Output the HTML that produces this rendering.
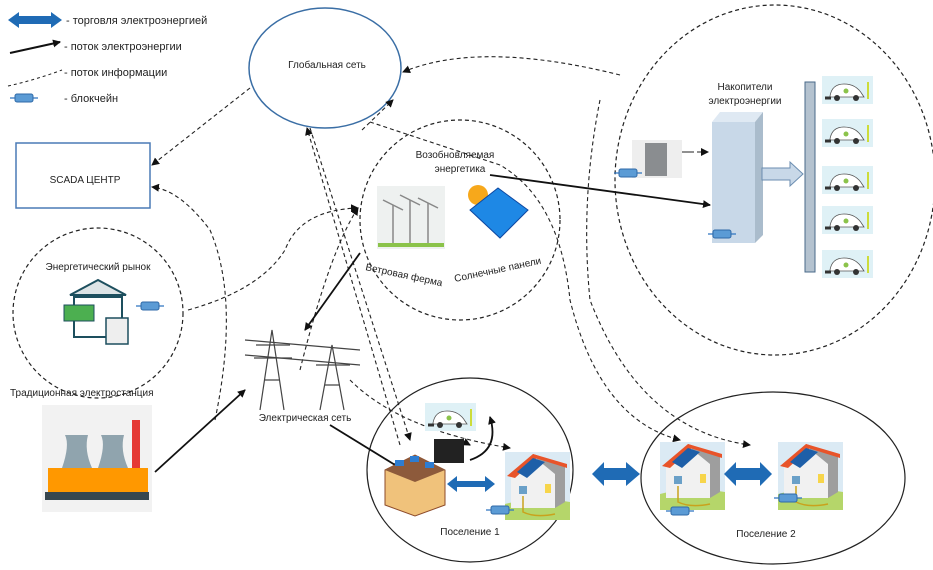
<!DOCTYPE html>
<html><head><meta charset="utf-8"><style>
body{margin:0;background:#fff;}
svg{display:block;font-family:"Liberation Sans","DejaVu Sans",sans-serif;}
</style></head><body>
<svg width="933" height="570" viewBox="0 0 933 570" xmlns="http://www.w3.org/2000/svg">
<defs>
<marker id="a" markerWidth="8" markerHeight="8" refX="7" refY="4" orient="auto" markerUnits="userSpaceOnUse"><path d="M0,0 L8,4 L0,8 z" fill="#111"/></marker>
<g id="bc"><line x1="-14" y1="0" x2="14" y2="0" stroke="#2f75c0" stroke-width="1.2"/><rect x="-9" y="-4" width="18" height="8" rx="2" fill="#5b9bd5" stroke="#2f6aa8"/></g>
<g id="car"><rect x="0" y="0" width="51" height="28" fill="#dff1f6"/><path d="M8,20 Q10,8 22,8 Q34,8 40,18 L42,21 L8,21z" fill="#fff" stroke="#555" stroke-width="0.8"/><circle cx="15" cy="22" r="3" fill="#333"/><circle cx="34" cy="22" r="3" fill="#333"/><circle cx="24" cy="15" r="2.5" fill="#8bc34a"/><rect x="45" y="6" width="2" height="17" fill="#cddc39"/><path d="M3,22 h6" stroke="#333" stroke-width="3"/></g>
<g id="house"><rect x="0" y="0" width="65" height="68" fill="#dbeaf4"/><path d="M0,68 L0,52 Q30,44 65,50 L65,68z" fill="#b5d66a"/><path d="M6,22 L28,4 L50,22 L50,56 L6,56z" fill="#f1f1f1"/><path d="M28,4 L60,14 L60,50 L50,56 L50,22z" fill="#9e9e9e"/><path d="M2,24 L28,2 L34,4 L10,26z" fill="#e8542a"/><path d="M12,20 L28,6 L40,10 L22,26z" fill="#1e5fa8"/><path d="M28,2 L62,12 L62,16 L30,6z" fill="#e8542a"/><rect x="14" y="34" width="8" height="8" fill="#6aa0c8"/><rect x="40" y="32" width="6" height="9" fill="#f7d54a"/><path d="M18,44 V60 Q30,66 50,62" stroke="#c9a21d" stroke-width="1.5" fill="none"/></g>
</defs>

<!-- legend -->
<path d="M8,20 L19,12 L19,16 L51,16 L51,12 L62,20 L51,28 L51,24 L19,24 L19,28z" fill="#1f6bb5"/>
<text x="66" y="24" font-size="11" fill="#222">- торговля электроэнергией</text>
<line x1="10" y1="53" x2="60" y2="42" stroke="#111" stroke-width="2" marker-end="url(#a)"/>
<text x="64" y="50" font-size="11" fill="#222">- поток электроэнергии</text>
<path d="M8,86 Q35,80 62,70" stroke="#222" stroke-width="1" stroke-dasharray="3,3" fill="none"/>
<text x="64" y="76" font-size="11" fill="#222">- поток информации</text>
<use href="#bc" x="24" y="98"/>
<text x="64" y="102" font-size="11" fill="#222">- блокчейн</text>

<!-- main shapes -->
<ellipse cx="325" cy="68" rx="76" ry="60" fill="none" stroke="#3a6ea5" stroke-width="1.5"/>
<text x="327" y="68" font-size="10" text-anchor="middle" fill="#222">Глобальная сеть</text>
<rect x="16" y="143" width="134" height="65" fill="#fff" stroke="#4a7ab5" stroke-width="1.5"/>
<text x="85" y="183" font-size="10" text-anchor="middle" fill="#222">SCADA ЦЕНТР</text>

<g fill="none" stroke="#222" stroke-width="1.2" stroke-dasharray="4,3">
<ellipse cx="98" cy="313" rx="85" ry="85"/>
<ellipse cx="460" cy="220" rx="100" ry="100"/>
<ellipse cx="775" cy="180" rx="160" ry="175"/>
</g>
<g fill="none" stroke="#222" stroke-width="1.2">
<ellipse cx="470" cy="470" rx="103" ry="92"/>
<ellipse cx="773" cy="478" rx="132" ry="86"/>
</g>

<!-- dashed info flows -->
<g fill="none" stroke="#222" stroke-width="1.1" stroke-dasharray="4,3" marker-end="url(#a)">
<path d="M250,88 L152,165"/>
<path d="M215,420 Q240,300 210,230 Q180,190 152,187"/>
<path d="M188,310 Q260,290 285,250 Q300,210 358,208"/>
<path d="M300,370 Q330,250 358,208"/>
<path d="M400,445 L307,128"/>
<path d="M362,130 L393,100"/>
<path d="M310,128 L410,440"/>
<path d="M370,122 L500,165 Q560,200 570,300 Q600,420 680,440"/>
<path d="M620,75 Q480,40 403,72"/>
<path d="M600,100 Q580,200 590,300 Q640,430 750,445"/>
<path d="M350,380 Q400,430 510,448"/>
<path d="M676,152 L708,152"/>
<path d="M690,152 L662,152"/>
</g>

<!-- power flow lines -->
<g stroke="#111" stroke-width="1.8" fill="none" marker-end="url(#a)">
<line x1="360" y1="253" x2="305" y2="330"/>
<line x1="155" y1="472" x2="245" y2="390"/>
<line x1="330" y1="425" x2="400" y2="468"/>
<line x1="490" y1="175" x2="710" y2="205"/>
<path d="M440,452 Q455,437 470,445"/>
<path d="M470,460 Q500,450 490,417"/>
</g>

<!-- renewable -->
<text x="455" y="158" font-size="10" text-anchor="middle" fill="#222">Возобновляемая</text>
<text x="460" y="172" font-size="10" text-anchor="middle" fill="#222">энергетика</text>
<rect x="377" y="186" width="68" height="63" fill="#eef1f0"/>
<g stroke="#888" stroke-width="1.5"><line x1="393" y1="205" x2="393" y2="245"/><line x1="410" y1="200" x2="410" y2="245"/><line x1="428" y1="203" x2="428" y2="245"/><line x1="383" y1="200" x2="403" y2="210"/><line x1="400" y1="195" x2="420" y2="205"/><line x1="418" y1="198" x2="438" y2="208"/></g>
<rect x="378" y="243" width="66" height="4" fill="#8bc34a"/>
<circle cx="478" cy="195" r="10" fill="#f7a81b"/>
<path d="M470,210 L498,188 L528,210 L500,238z" fill="#1e88e5" stroke="#0d47a1"/>
<text x="365" y="270" font-size="10" fill="#222" transform="rotate(12 365 270)">Ветровая ферма</text>
<text x="455" y="282" font-size="10" fill="#222" transform="rotate(-12 455 282)">Солнечные панели</text>

<!-- market -->
<text x="98" y="270" font-size="10" text-anchor="middle" fill="#222">Энергетический рынок</text>
<path d="M70,295 L98,280 L126,295z" fill="#dde4e6" stroke="#1d4f5e" stroke-width="2"/>
<rect x="74" y="297" width="48" height="40" fill="#fff" stroke="#1d4f5e" stroke-width="2"/>
<rect x="64" y="305" width="30" height="16" fill="#4caf50" stroke="#1d4f5e"/>
<rect x="106" y="318" width="22" height="26" fill="#eee" stroke="#1d4f5e" stroke-width="1.5"/>
<use href="#bc" x="150" y="306"/>

<!-- power grid -->
<g stroke="#444" stroke-width="1.2" fill="none"><path d="M260,410 L272,330 L284,410 M264,380 L280,380 M256,345 L290,345 M254,358 L292,358"/><path d="M320,410 L332,345 L344,410 M316,365 L350,365 M325,385 L340,385"/><path d="M245,340 L360,350 M245,355 L360,365"/></g>
<text x="305" y="421" font-size="10" text-anchor="middle" fill="#222">Электрическая сеть</text>

<!-- plant -->
<text x="10" y="396" font-size="10" fill="#222">Традиционная электростанция</text>
<rect x="42" y="405" width="110" height="107" fill="#f2f2f2"/>
<path d="M62,468 Q70,445 65,435 L88,435 Q84,450 92,468z" fill="#90a4ae"/>
<path d="M98,468 Q106,445 101,435 L124,435 Q120,450 128,468z" fill="#90a4ae"/>
<rect x="132" y="420" width="8" height="72" fill="#e53935"/>
<rect x="48" y="468" width="100" height="24" fill="#ff9800"/>
<rect x="45" y="492" width="104" height="8" fill="#37474f"/>

<!-- storage -->
<text x="745" y="90" font-size="10" text-anchor="middle" fill="#222">Накопители</text>
<text x="745" y="104" font-size="10" text-anchor="middle" fill="#222">электроэнергии</text>
<path d="M712,122 L720,112 L763,112 L755,122z" fill="#dfe9f3"/>
<path d="M755,122 L763,112 L763,235 L755,243z" fill="#aabccc"/>
<rect x="712" y="122" width="43" height="121" fill="#c8d8e8"/>
<use href="#bc" x="722" y="234"/>
<path d="M762,168 L790,168 L790,162 L803,174 L790,186 L790,180 L762,180z" fill="#c8d8e8" stroke="#6b8db0"/>
<rect x="805" y="82" width="10" height="190" fill="#b4c2cf" stroke="#4a6a8a"/>
<use href="#car" x="822" y="76"/><use href="#car" x="822" y="119"/><use href="#car" x="822" y="166"/><use href="#car" x="822" y="206"/><use href="#car" x="822" y="250"/>
<rect x="632" y="140" width="50" height="38" fill="#eee"/>
<rect x="645" y="143" width="22" height="33" fill="#8a8d90"/>
<use href="#bc" x="628" y="173"/>

<!-- settlement 1 -->
<rect x="425" y="403" width="51" height="28" fill="#dff1f6"/><use href="#car" x="425" y="403"/>
<rect x="434" y="439" width="30" height="24" fill="#222"/>
<path d="M385,470 L415,455 L445,470 L445,505 L415,516 L385,505z" fill="#f0c27b" stroke="#8d4b2a"/>
<path d="M385,470 L415,455 L445,470 L415,482z" fill="#8d5a3b"/>
<g fill="#2e7dd1"><rect x="395" y="460" width="9" height="6"/><rect x="410" y="456" width="9" height="6"/><rect x="425" y="462" width="9" height="6"/></g>
<path d="M447,484 L457,476 L457,481 L485,481 L485,476 L495,484 L485,492 L485,487 L457,487 L457,492z" fill="#1f6bb5"/>
<use href="#house" x="505" y="452"/>
<use href="#bc" x="500" y="510"/>
<text x="470" y="535" font-size="10" text-anchor="middle" fill="#222">Поселение 1</text>

<!-- trading between -->
<path d="M592,474 L604,462 L604,468 L626,468 L626,462 L640,474 L626,486 L626,480 L604,480 L604,486z" fill="#1f6bb5"/>

<!-- settlement 2 -->
<use href="#house" x="660" y="442"/>
<use href="#bc" x="680" y="511"/>
<path d="M724,474 L736,462 L736,468 L760,468 L760,462 L772,474 L760,486 L760,480 L736,480 L736,486z" fill="#1f6bb5"/>
<use href="#house" x="778" y="442"/>
<use href="#bc" x="788" y="498"/>
<text x="766" y="537" font-size="10" text-anchor="middle" fill="#222">Поселение 2</text>
</svg>
</body></html>
